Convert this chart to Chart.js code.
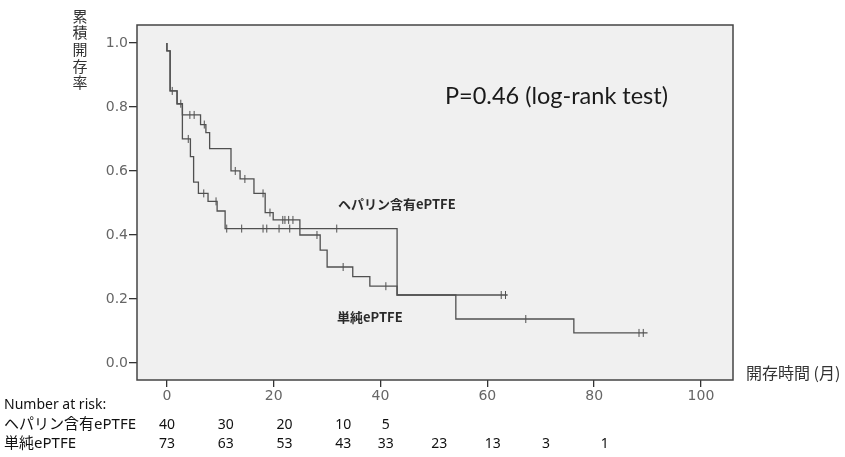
<!DOCTYPE html>
<html>
<head>
<meta charset="utf-8">
<script src="https://cdn.jsdelivr.net/npm/chart.js@4/dist/chart.umd.min.js"></script>
<style>
  html, body { margin: 0; padding: 0; background: #fff; }
  #wrap { width: 845px; height: 457px; position: relative; }
</style>
</head>
<body>
<div id="wrap"><canvas id="km"></canvas></div>
<script>
// 累積開存率 (Kaplan-Meier), 時間は月
const heparinaT = [0, 0, 0.6, 1.9, 2.9, 4.4, 5.0, 5.9, 7.7, 9.4, 10.9, 43.1, 63.8];
const heparinaS = [1.0, 0.975, 0.85, 0.81, 0.70, 0.645, 0.565, 0.53, 0.505, 0.475, 0.42, 0.2125, 0.2125];
const heparinaCensura = [4.0, 6.9, 9.2, 11.2, 14.0, 18.0, 18.7, 21.0, 23.0, 31.8, 62.6, 63.4];

const simplesT = [0, 0, 0.6, 1.9, 2.9, 6.3, 7.3, 8.0, 12.0, 13.7, 16.3, 18.4, 19.9, 24.9, 28.7, 30.0, 34.8, 38.0, 43.1, 54.1, 76.2, 90.0];
const simplesS = [1.0, 0.975, 0.85, 0.81, 0.775, 0.745, 0.72, 0.67, 0.60, 0.575, 0.53, 0.47, 0.447, 0.40, 0.353, 0.30, 0.27, 0.24, 0.2125, 0.1375, 0.094, 0.094];
const simplesCensura = [1.0, 2.6, 4.3, 5.1, 7.0, 12.8, 14.6, 18.0, 19.3, 21.7, 22.1, 22.8, 23.6, 28.1, 33.0, 41.0, 67.2, 88.4, 89.2];

const ticksX = [0, 20, 40, 60, 80, 100];
const ticksY = [0.0, 0.2, 0.4, 0.6, 0.8, 1.0];

// Number at risk
const riscoTempos = [0, 11, 22, 33, 41, 51, 61, 71, 82];
const riscoHeparina = [40, 30, 20, 10, 5];
const riscoSimples = [73, 63, 53, 43, 33, 23, 13, 3, 1];

const corLinha = '#505050';

function pontos(ts, ss) {
  return ts.map((t, i) => ({ x: t, y: ss[i] }));
}

// valor da curva no tempo t (para pôr as marcas de censura em cima da linha)
function valorEm(ts, ss, t) {
  let v = ss[0];
  for (let i = 0; i < ts.length; i++) {
    if (ts[i] <= t) v = ss[i];
  }
  return v;
}

function censuras(ts, ss, cs) {
  return cs.map(t => ({ x: t, y: valorEm(ts, ss, t) }));
}

const pluginQuadro = {
  id: 'quadro',
  beforeDraw(chart) {
    const { ctx, chartArea: a } = chart;
    ctx.save();
    ctx.fillStyle = '#f0f0f0';
    ctx.fillRect(a.left, a.top, a.right - a.left, a.bottom - a.top);
    ctx.restore();
  },
  afterDraw(chart) {
    const { ctx, chartArea: a, scales } = chart;
    ctx.save();
    // moldura
    ctx.strokeStyle = '#444';
    ctx.lineWidth = 1.5;
    ctx.strokeRect(a.left, a.top, a.right - a.left, a.bottom - a.top);

    // título do eixo y, vertical
    ctx.fillStyle = '#333';
    ctx.font = '15px "Noto Sans CJK JP"';
    ctx.textAlign = 'center';
    ctx.textBaseline = 'middle';
    const tituloY = '累積開存率';
    for (let i = 0; i < tituloY.length; i++) {
      ctx.fillText(tituloY[i], 80, 16 + i * 16.6);
    }

    // título do eixo x
    ctx.textAlign = 'left';
    ctx.font = '16px "Noto Sans CJK JP"';
    ctx.fillText('開存時間 (月)', 746, 373);

    // P valor
    ctx.fillStyle = '#1a1a1a';
    ctx.font = '23.5px Lato';
    ctx.fillText('P=0.46 (log-rank test)', 445, 96);

    // rótulos das curvas
    ctx.fillStyle = '#2a2a2a';
    ctx.font = 'bold 13px "Noto Sans CJK JP"';
    ctx.fillText('ヘパリン含有ePTFE', 338, 204);
    ctx.fillText('単純ePTFE', 337, 317);

    // tabela number at risk
    const x = scales.x;
    ctx.fillStyle = '#111';
    ctx.font = '14px "Noto Sans", "Noto Sans CJK JP"';
    ctx.fillText('Number at risk:', 4, 405);
    ctx.font = '15px "Noto Sans", "Noto Sans CJK JP"';
    ctx.fillText('ヘパリン含有ePTFE', 4, 425);
    ctx.fillText('単純ePTFE', 4, 444);
    ctx.textAlign = 'center';
    ctx.font = '14px "Noto Sans"';
    riscoHeparina.forEach((n, i) => {
      ctx.fillText(String(n), x.getPixelForValue(riscoTempos[i]), 425);
    });
    riscoSimples.forEach((n, i) => {
      ctx.fillText(String(n), x.getPixelForValue(riscoTempos[i]), 444);
    });
    ctx.restore();
  }
};

new Chart(document.getElementById('km').getContext('2d'), {
  type: 'scatter',
  data: {
    datasets: [
      {
        label: 'ヘパリン含有ePTFE',
        data: pontos(heparinaT, heparinaS),
        showLine: true,
        stepped: 'before',
        borderColor: corLinha,
        borderWidth: 1.3,
        pointRadius: 0,
        fill: false
      },
      {
        label: '単純ePTFE',
        data: pontos(simplesT, simplesS),
        showLine: true,
        stepped: 'before',
        borderColor: corLinha,
        borderWidth: 1.3,
        pointRadius: 0,
        fill: false
      },
      {
        label: 'censura ヘパリン',
        data: censuras(heparinaT, heparinaS, heparinaCensura),
        pointStyle: 'line',
        rotation: 90,
        pointRadius: 4,
        borderColor: corLinha,
        borderWidth: 1
      },
      {
        label: 'censura 単純',
        data: censuras(simplesT, simplesS, simplesCensura),
        pointStyle: 'line',
        rotation: 90,
        pointRadius: 4,
        borderColor: corLinha,
        borderWidth: 1
      }
    ]
  },
  options: {
    responsive: true,
    maintainAspectRatio: false,
    animation: false,
    layout: { padding: { left: 0, right: 112, top: 25, bottom: 0 } },
    plugins: {
      legend: { display: false },
      tooltip: { enabled: false }
    },
    scales: {
      x: {
        type: 'linear',
        min: -5.6,
        max: 106,
        afterBuildTicks: (s) => { s.ticks = ticksX.map(v => ({ value: v })); },
        afterFit: (s) => { s.height = 77; },
        border: { display: false },
        grid: { drawOnChartArea: false, drawTicks: true, tickLength: 7, color: '#333', lineWidth: 1.3 },
        ticks: { color: '#666', font: { family: 'DejaVu Sans', size: 14 }, padding: 1, maxRotation: 0 }
      },
      y: {
        type: 'linear',
        min: -0.053,
        max: 1.056,
        afterBuildTicks: (s) => { s.ticks = ticksY.map(v => ({ value: v })); },
        afterFit: (s) => { s.width = 137; },
        border: { display: false },
        grid: { drawOnChartArea: false, drawTicks: true, tickLength: 8, color: '#333', lineWidth: 1.3 },
        ticks: {
          color: '#666',
          font: { family: 'DejaVu Sans', size: 14 },
          padding: 1,
          callback: (v) => Number(v).toFixed(1)
        }
      }
    }
  },
  plugins: [pluginQuadro]
});
</script>
</body>
</html>
